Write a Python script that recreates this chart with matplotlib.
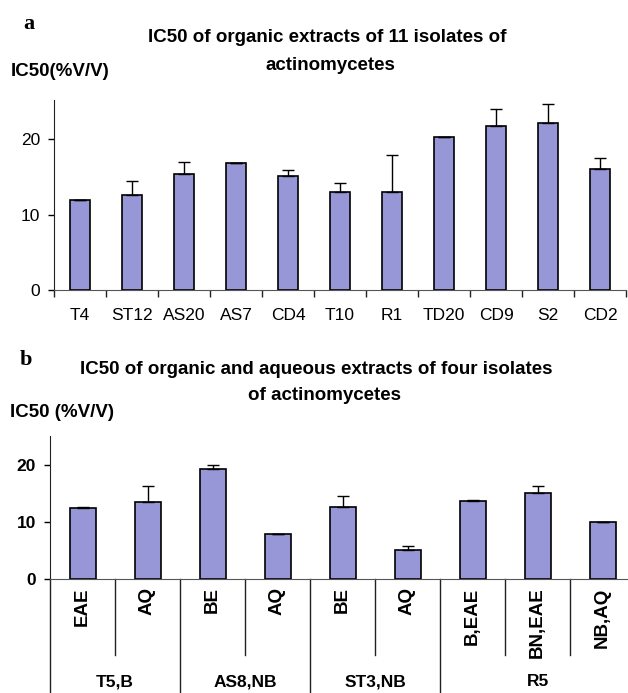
import matplotlib
matplotlib.use("Agg")
import matplotlib.pyplot as plt

plt.rcParams['font.family'] = ['Liberation Sans', 'DejaVu Sans']

# panel a: organic extracts of 11 isolates
isolates_a = ['T4', 'ST12', 'AS20', 'AS7', 'CD4', 'T10', 'R1', 'TD20', 'CD9', 'S2', 'CD2']
ic50_a = [12.0, 12.6, 15.4, 16.8, 15.1, 13.0, 13.0, 20.3, 21.7, 22.1, 16.1]
err_a = [0.0, 1.8, 1.55, 0.0, 0.75, 1.2, 4.9, 0.0, 2.3, 2.55, 1.4]

# panel b: organic and aqueous extracts of four isolates
extracts_b = ['EAE', 'AQ', 'BE', 'AQ', 'BE', 'AQ', 'B,EAE', 'BN,EAE', 'NB,AQ']
isolates_b = ['T5,B', 'AS8,NB', 'ST3,NB', 'R5']
group_sizes = [2, 2, 2, 3]
ic50_b = [12.4, 13.6, 19.35, 7.9, 12.7, 5.15, 13.7, 15.15, 10.0]
err_b = [0.3, 2.7, 0.65, 0.05, 1.85, 0.6, 0.25, 1.25, 0.05]

bar_color = '#9797D8'
W, H = 628, 693

fig = plt.figure(figsize=(W / 100, H / 100), dpi=100)


def px_axes(left, top, right, bottom):
    return fig.add_axes([left / W, 1 - bottom / H, (right - left) / W, (bottom - top) / H])


def style(ax, bold):
    for s in ('top', 'right'):
        ax.spines[s].set_visible(False)
    ax.spines['left'].set_color('#222222')
    ax.spines['bottom'].set_color('#555555')
    ax.set_yticks([0, 10, 20])
    ax.tick_params(axis='y', length=4, width=1, pad=6, labelsize=12.5)
    for t in ax.get_yticklabels():
        t.set_fontweight('bold' if bold else 'normal')


# ---- panel a ----
ax1 = px_axes(54, 100, 626, 290)
x = range(len(isolates_a))
ax1.bar(x, ic50_a, width=0.4, color=bar_color, edgecolor='black', linewidth=1.2, zorder=2)
ax1.errorbar(x, ic50_a, yerr=[[0] * len(err_a), err_a], fmt='none', ecolor='black',
             elinewidth=1, capsize=4.5, capthick=1, zorder=3)
ax1.set_xlim(-0.5, len(isolates_a) - 0.5)
ax1.set_ylim(0, 25.2)
style(ax1, False)
ax1.set_xticks(list(x))
ax1.set_xticklabels(isolates_a, fontsize=12.5)
ax1.tick_params(axis='x', which='major', length=0, pad=13)
ax1.set_xticks([i - 0.5 for i in range(len(isolates_a) + 1)], minor=True)
ax1.tick_params(axis='x', which='minor', length=5, width=1, color='#222222')

fig.text(23 / W, 1 - 24 / H, 'a', family='Liberation Serif', fontweight='bold',
         fontsize=16, va='center', ha='left')
fig.text(327 / W, 1 - 37 / H, 'IC50 of organic extracts of 11 isolates of',
         fontweight='bold', fontsize=13.5, ha='center', va='center')
fig.text(330 / W, 1 - 65 / H, 'actinomycetes',
         fontweight='bold', fontsize=13.5, ha='center', va='center')
fig.text(11 / W, 1 - 71 / H, 'IC50(%V/V)', fontweight='bold', fontsize=13.5,
         ha='left', va='center')

# ---- panel b ----
ax2 = px_axes(50, 436, 635, 579)
xb = range(len(extracts_b))
ax2.bar(xb, ic50_b, width=0.4, color=bar_color, edgecolor='black', linewidth=1.2, zorder=2)
ax2.errorbar(xb, ic50_b, yerr=[[0] * len(err_b), err_b], fmt='none', ecolor='black',
             elinewidth=1, capsize=4.5, capthick=1, zorder=3)
ax2.set_xlim(-0.5, len(extracts_b) - 0.5)
ax2.set_ylim(0, 25.1)
style(ax2, True)
ax2.set_xticks(list(xb))
ax2.set_xticklabels(extracts_b, rotation=90, fontweight='bold', fontsize=13.5)
ax2.tick_params(axis='x', length=0, pad=6)

# group separators and group labels under the axis
trans = ax2.get_xaxis_transform()
start = 0
bounds = [-0.5]
for name, n in zip(isolates_b, group_sizes):
    for k in range(1, n):
        ax2.plot([start + k - 0.5] * 2, [0, -0.53], color='#222222', lw=1,
                 transform=trans, clip_on=False)
    ax2.text(start + (n - 1) / 2, -0.72, name, transform=trans, ha='center', va='center',
             fontweight='bold', fontsize=12.5)
    start += n
    bounds.append(start - 0.5)
for b in bounds:
    ax2.plot([b, b], [0, -0.85], color='#222222', lw=1, transform=trans, clip_on=False)

fig.text(20 / W, 1 - 360 / H, 'b', family='Liberation Serif', fontweight='bold',
         fontsize=16, va='center', ha='left')
fig.text(316 / W, 1 - 370 / H, 'IC50 of organic and aqueous extracts of four isolates',
         fontweight='bold', fontsize=13.5, ha='center', va='center')
fig.text(324 / W, 1 - 396 / H, 'of actinomycetes',
         fontweight='bold', fontsize=13.5, ha='center', va='center')
fig.text(10 / W, 1 - 413 / H, 'IC50 (%V/V)', fontweight='bold', fontsize=13.5,
         ha='left', va='center')

fig.savefig('out.png', dpi=100)
